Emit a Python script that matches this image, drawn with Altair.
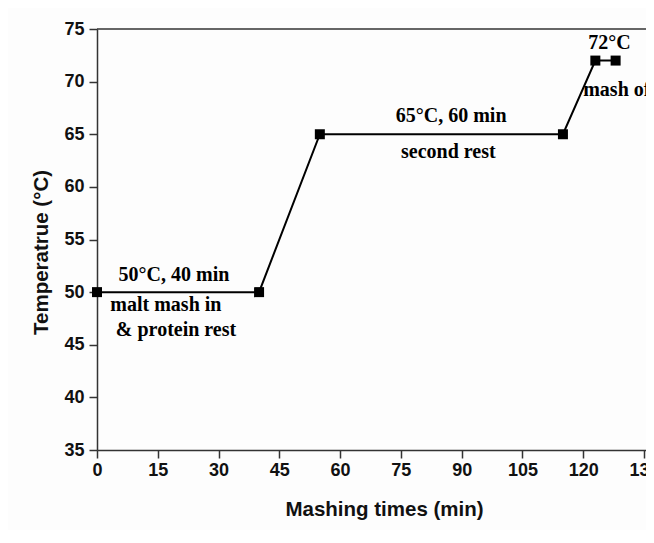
import altair as alt
import pandas as pd

# Mashing profile
time_min = [0, 40, 55, 115, 123, 128]
temp_c = [50, 50, 65, 65, 72, 72]

# Annotations
ann_text = ["50°C, 40 min", "malt mash in", "& protein rest",
            "65°C, 60 min", "second rest", "72°C", "mash off"]
ann_x = [19, 17, 19.5, 87.4, 86.7, 126.5, 120]
ann_y = [51.6, 48.8, 46.4, 66.7, 63.3, 73.7, 69.2]
ann_align = ["center", "center", "center", "center", "center", "center", "left"]

# Axis ticks (major + minor)
x_ticks = [0, 7.5, 15, 22.5, 30, 37.5, 45, 52.5, 60, 67.5, 75, 82.5, 90,
           97.5, 105, 112.5, 120, 127.5, 135]
y_ticks = [35, 37.5, 40, 42.5, 45, 47.5, 50, 52.5, 55, 57.5, 60, 62.5, 65,
           67.5, 70, 72.5, 75]

df = pd.DataFrame({"t": time_min, "T": temp_c})
ann = pd.DataFrame({"text": ann_text, "x": ann_x, "y": ann_y, "align": ann_align})
top = pd.DataFrame({"y": [75]})

axis_color = "#333333"
sans = "Liberation Sans"
serif = "Liberation Serif"

x_scale = alt.Scale(domain=[0, 135.5], nice=False, zero=False)
y_scale = alt.Scale(domain=[35, 75], nice=False, zero=False)

x_axis = alt.Axis(
    values=x_ticks,
    labelExpr="datum.value % 15 === 0 ? datum.label : ''",
    tickSize={"condition": {"test": "datum.value % 15 === 0", "value": 8}, "value": 5},
    labelFlush=False, labelOverlap=False, grid=False,
    domainColor=axis_color, domainWidth=1.5, tickColor=axis_color, tickWidth=1.5,
    labelFont=sans, labelFontSize=18, labelFontWeight="bold", labelColor="#111111",
    labelPadding=3,
    title="Mashing times (min)", titleFont=sans, titleFontSize=20.5,
    titleFontWeight="bold", titleColor="#111111", titlePadding=20, titleX=287,
)
y_axis = alt.Axis(
    values=y_ticks,
    labelExpr="datum.value % 5 === 0 ? datum.label : ''",
    tickSize={"condition": {"test": "datum.value % 5 === 0", "value": 8}, "value": 5},
    labelFlush=False, labelOverlap=False, grid=False,
    domainColor=axis_color, domainWidth=1.5, tickColor=axis_color, tickWidth=1.5,
    labelFont=sans, labelFontSize=18, labelFontWeight="bold", labelColor="#111111",
    labelPadding=5,
    title="Temperatrue (°C)", titleFont=sans, titleFontSize=20.5,
    titleFontWeight="bold", titleColor="#111111", titlePadding=12, titleY=223,
)

line = alt.Chart(df).mark_line(color="black", strokeWidth=2).encode(
    x=alt.X("t:Q", scale=x_scale, axis=x_axis),
    y=alt.Y("T:Q", scale=y_scale, axis=y_axis),
)
pts = alt.Chart(df).mark_square(size=100, color="black", opacity=1).encode(
    x=alt.X("t:Q", scale=x_scale),
    y=alt.Y("T:Q", scale=y_scale),
)
frame_top = alt.Chart(top).mark_rule(color=axis_color, strokeWidth=1.5).encode(
    y=alt.Y("y:Q", scale=y_scale),
)
texts_c = alt.Chart(ann[ann["align"] == "center"]).mark_text(
    font=serif, fontSize=20, fontWeight="bold", color="black", align="center",
    baseline="middle", clip=True,
).encode(
    x=alt.X("x:Q", scale=x_scale),
    y=alt.Y("y:Q", scale=y_scale),
    text="text:N",
)
texts_l = alt.Chart(ann[ann["align"] == "left"]).mark_text(
    font=serif, fontSize=20, fontWeight="bold", color="black", align="left",
    baseline="middle", clip=True,
).encode(
    x=alt.X("x:Q", scale=x_scale),
    y=alt.Y("y:Q", scale=y_scale),
    text="text:N",
)

chart = alt.layer(frame_top, line, pts, texts_c, texts_l).properties(
    width=549, height=421,
    autosize=alt.AutoSizeParams(type="none"),
    padding={"left": 89, "top": 21, "right": 0, "bottom": 80},
    background="#fdfdfd",
).configure_view(strokeOpacity=0)

chart.save("out.html", embed_options={"renderer": "svg", "actions": False})
